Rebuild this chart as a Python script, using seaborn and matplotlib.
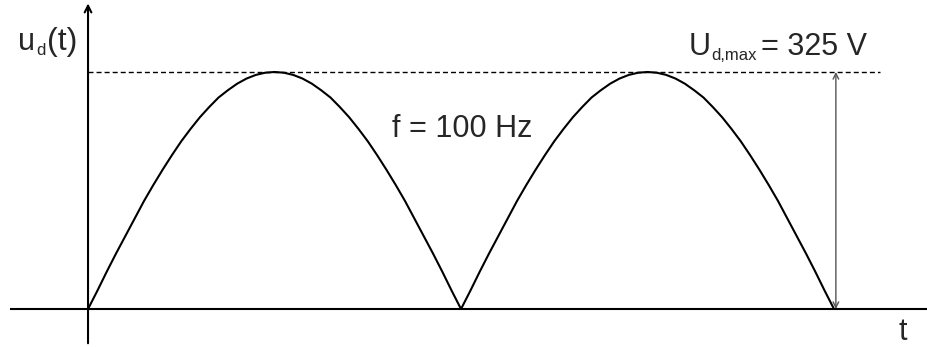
import numpy as np
import pandas as pd
import matplotlib
matplotlib.use("Agg")
import matplotlib.pyplot as plt
import matplotlib.transforms as mtransforms
import seaborn as sns

# --- data (t in ms, u in V) ---
t_ms = [0.0, 0.25, 0.5, 0.75, 1.0, 1.25, 1.5, 1.75, 2.0, 2.25,
        2.5, 2.75, 3.0, 3.25, 3.5, 3.75, 4.0, 4.25, 4.5, 4.75,
        5.0, 5.25, 5.5, 5.75, 6.0, 6.25, 6.5, 6.75, 7.0, 7.25,
        7.5, 7.75, 8.0, 8.25, 8.5, 8.75, 9.0, 9.25, 9.5, 9.75,
        10.0, 10.25, 10.5, 10.75, 11.0, 11.25, 11.5, 11.75, 12.0, 12.25,
        12.5, 12.75, 13.0, 13.25, 13.5, 13.75, 14.0, 14.25, 14.5, 14.75,
        15.0, 15.25, 15.5, 15.75, 16.0, 16.25, 16.5, 16.75, 17.0, 17.25,
        17.5, 17.75, 18.0, 18.25, 18.5, 18.75, 19.0, 19.25, 19.5, 19.75, 20.0]
u_volts = [0, 25, 51, 76, 100, 124, 148, 170, 191, 211,
           230, 247, 263, 277, 290, 300, 309, 316, 321, 324,
           325, 324, 321, 316, 309, 300, 290, 277, 263, 247,
           230, 211, 191, 170, 148, 124, 100, 76, 51, 25,
           0, 25, 51, 76, 100, 124, 148, 170, 191, 211,
           230, 247, 263, 277, 290, 300, 309, 316, 321, 324,
           325, 324, 321, 316, 309, 300, 290, 277, 263, 247,
           230, 211, 191, 170, 148, 124, 100, 76, 51, 25, 0]
U_MAX = 325
PERIOD_END = 20.0

FONT_SIZE = 22
SUB_SIZE = 12

sns.set_theme(style="white")
plt.rcParams["font.family"] = ["Liberation Sans", "DejaVu Sans"]

df = pd.DataFrame({"t": t_ms, "u": u_volts})

fig = plt.figure(figsize=(9.28, 3.47), dpi=100)
ax = fig.add_axes([0, 0, 1, 1])

sns.lineplot(data=df, x="t", y="u", color="black", linewidth=1.5,
             estimator=None, sort=False, ax=ax)

ax.set_xlim(-2.36, 22.52)
ax.set_ylim(-52.1, 423.7)
ax.set_axis_off()

# hand drawn axes
ax.plot([-2.09, 22.52], [0, 0], color="black", linewidth=1.5, solid_capstyle="butt")
ax.annotate("", xy=(0, 419), xytext=(0, -47),
            arrowprops=dict(arrowstyle="->", color="black", lw=1.5,
                            mutation_scale=12, shrinkA=0, shrinkB=0))

# peak level and dimension arrow
ax.plot([0, 21.23], [U_MAX, U_MAX], color="black", linewidth=1.0,
        linestyle=(0, (3.6, 2.2)))
ax.annotate("", xy=(PERIOD_END + 0.05, U_MAX), xytext=(PERIOD_END + 0.05, 0),
            arrowprops=dict(arrowstyle="<->", color="#555555", lw=1.0,
                            mutation_scale=10, shrinkA=0, shrinkB=0))

renderer = fig.canvas.get_renderer()


def chain_text(x, y, pieces):
    # pieces: (text, fontsize, vertical offset px, gap before px)
    dx = 0.0
    for s, size, dy, gap in pieces:
        dx += gap
        tr = mtransforms.offset_copy(ax.transData, fig=fig, x=dx, y=dy, units="dots")
        txt = ax.text(x, y, s, fontsize=size, va="baseline", ha="left", transform=tr)
        dx += txt.get_window_extent(renderer).width


chain_text(-1.877, 355, [("u", FONT_SIZE, 0, 0), ("d", SUB_SIZE, -5, 1),
                         ("(t)", 23, 0, 2)])
chain_text(16.09, 348, [("U", FONT_SIZE, 0, 0), ("d,max", SUB_SIZE, -5, 1),
                        ("= 325 V", FONT_SIZE, 0, 4)])
ax.text(8.14, 235.5, "f = 100 Hz", fontsize=FONT_SIZE, va="baseline", ha="left")
ax.text(21.72, -42.5, "t", fontsize=FONT_SIZE, va="baseline", ha="left")

fig.savefig("out.png", dpi=100, facecolor="white")
